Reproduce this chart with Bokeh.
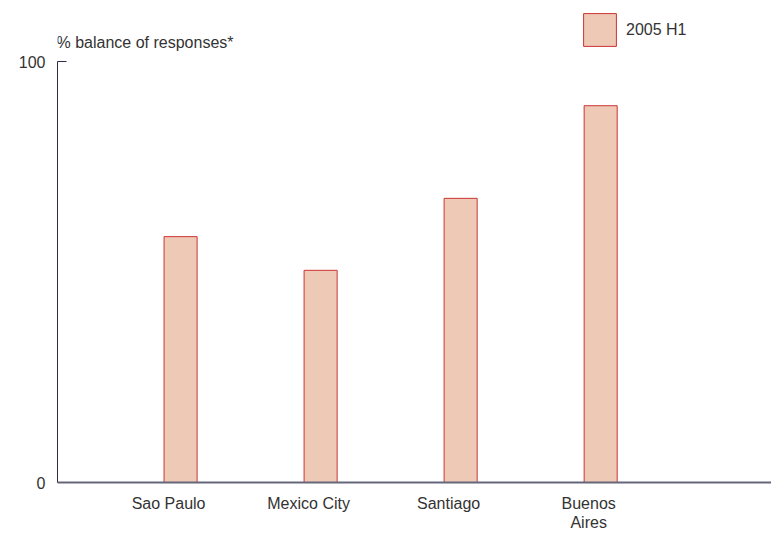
from bokeh.plotting import figure
from bokeh.models import (ColumnDataSource, Range1d, FixedTicker, Legend, LegendItem,
                          LabelSet, Label, Span)
from bokeh.core.properties import value
from bokeh.embed import file_html
from bokeh.resources import INLINE

# data
cities = ["Sao Paulo", "Mexico City", "Santiago", "Buenos\nAires"]
positions = [1, 2, 3, 4]
values_2005_h1 = [58.4, 50.4, 67.5, 89.5]
series_name = "2005 H1"
y_ticks = [0, 100]
y_title = "% balance of responses*"

FONT = "Liberation Sans"
TXT = "#333333"
FS = "16px"

src = ColumnDataSource(dict(x=positions, top=values_2005_h1))

X0 = 0.121
p = figure(width=771, height=533, output_backend="svg", toolbar_location=None,
           x_range=Range1d(X0, 5.22), y_range=Range1d(-12.11, 114.49),
           min_border_left=57, min_border_right=0, min_border_top=0, min_border_bottom=0,
           outline_line_color=None, background_fill_color="white",
           border_fill_color="white")
p.grid.visible = False
p.xaxis.visible = False

r = p.vbar(x="x", top="top", width=0.236, source=src,
           fill_color="#eecab6", line_color="#cc3333", line_width=1)

# y axis
ya = p.yaxis[0]
ya.bounds = (0, 100)
ya.ticker = FixedTicker(ticks=y_ticks)
ya.minor_tick_line_color = None
ya.major_tick_in = 9
ya.major_tick_out = 0
ya.axis_line_color = "#2b2b4b"
ya.major_tick_line_color = "#2b2b4b"
ya.major_label_text_font = FONT
ya.major_label_text_font_size = FS
ya.major_label_text_color = TXT
ya.major_label_standoff = 12

# baseline (x axis line)
p.add_layout(Span(location=0, dimension="width", line_color="#66667a", line_width=2))

# category labels, one LabelSet per text line so each line is centred
split = [c.split("\n") for c in cities]
nlines = max(len(s) for s in split)
for li in range(nlines):
    xs, ts = [], []
    for pos, s in zip(positions, split):
        if li < len(s):
            xs.append(pos)
            ts.append(s[li])
    lsrc = ColumnDataSource(dict(x=xs, y=[0] * len(xs), t=ts))
    p.add_layout(LabelSet(x="x", y="y", text="t", source=lsrc,
                          x_offset=-12, y_offset=-12 - 19 * li,
                          text_align="center", text_baseline="top",
                          text_font=value(FONT), text_font_size=value(FS),
                          text_color=TXT))

p.add_layout(Label(x=X0, y=100, text=y_title, x_offset=-1, y_offset=19,
                   text_baseline="middle", text_align="left",
                   text_font=FONT, text_font_size=FS, text_color=TXT))

legend = Legend(items=[LegendItem(label=series_name, renderers=[r])],
                location=(522, 483), padding=0, margin=0, spacing=0,
                glyph_width=41, glyph_height=41, label_standoff=6,
                border_line_alpha=0, background_fill_alpha=0,
                label_text_font=FONT, label_text_font_size=FS,
                label_text_color=TXT)
p.add_layout(legend)

open("out.html", "w").write(file_html(p, INLINE))
